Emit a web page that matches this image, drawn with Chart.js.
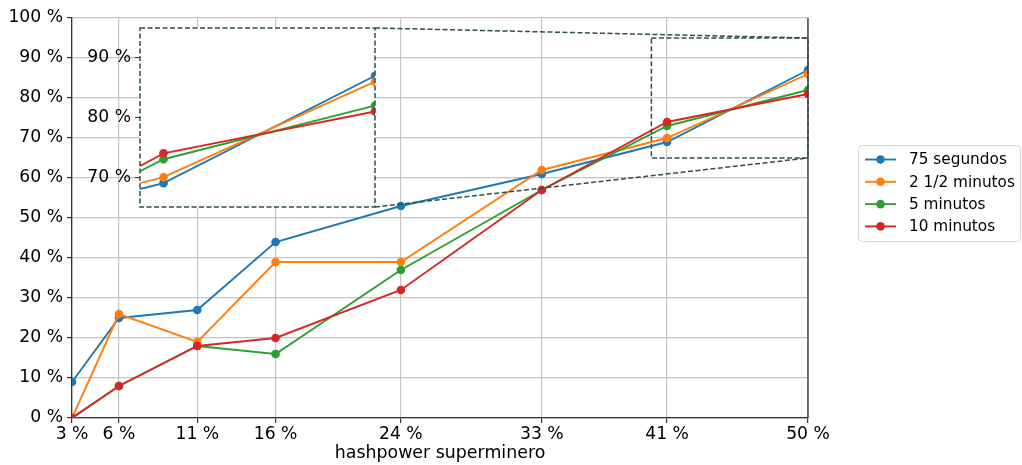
<!DOCTYPE html>
<html>
<head>
<meta charset="utf-8">
<script src="https://cdn.jsdelivr.net/npm/chart.js@4.4.1/dist/chart.umd.min.js"></script>
<style>
  html, body { margin: 0; padding: 0; background: #fff; }
  #wrap { position: relative; width: 1022px; height: 465px; }
  #mainChart { position: absolute; left: 0; top: 0; }
  #insetChart { position: absolute; }
</style>
</head>
<body>
<div id="wrap">
  <canvas id="mainChart" width="1022" height="465"></canvas>
  <canvas id="insetChart"></canvas>
</div>
<script>
// hashpower of the superminer (%) vs. share of blocks (%)
const hashpower = [3, 6, 11, 16, 24, 33, 41, 50];
const seriesNames = ['75 segundos', '2 1/2 minutos', '5 minutos', '10 minutos'];
const seg75 = [9, 25, 27, 44, 53, 61, 69, 87];
const min2half = [0, 26, 19, 39, 39, 62, 70, 86];
const min5 = [0, 8, 18, 16, 37, 57, 73, 82];
const min10 = [0, 8, 18, 20, 32, 57, 74, 81];

const xTicks = [3, 6, 11, 16, 24, 33, 41, 50];
const yTicks = [0, 10, 20, 30, 40, 50, 60, 70, 80, 90, 100];
const insetXRange = [40, 50];
const insetYRange = [65, 95];
const insetYTicks = [70, 80, 90];

const colors = ['#1f77b4', '#ff7f0e', '#2ca02c', '#d62728'];
const FONT = 'DejaVu Sans';
const TICK_SIZE = 17.2;
const INSET = { left: 140, top: 28, right: 375, bottom: 207 };
const DASH_COLOR = '#2f4f4f';

Chart.defaults.color = '#000';
Chart.defaults.font.family = FONT;

function makeDatasets() {
  return [seg75, min2half, min5, min10].map((vals, i) => ({
    label: seriesNames[i],
    data: vals.map((v, j) => ({ x: hashpower[j], y: v })),
    borderColor: colors[i],
    backgroundColor: colors[i],
    borderWidth: 1.9,
    pointRadius: 4.3,
    pointHoverRadius: 4.3,
    pointBorderWidth: 0,
    tension: 0,
    clip: 0,
    order: 4 - i
  }));
}

const pct = v => v + ' %';

// zoom box + connector lines toward the inset, plus the right spine
const zoomMarks = {
  id: 'zoomMarks',
  afterDatasetsDraw(chart) {
    const { ctx, scales: { x, y }, chartArea } = chart;
    const x0 = x.getPixelForValue(insetXRange[0]);
    const x1 = x.getPixelForValue(insetXRange[1]);
    const yTop = y.getPixelForValue(insetYRange[1]);
    const yBot = y.getPixelForValue(insetYRange[0]);
    ctx.save();
    ctx.strokeStyle = '#333';
    ctx.lineWidth = 1.3;
    ctx.beginPath();
    ctx.moveTo(chartArea.right, chartArea.top);
    ctx.lineTo(chartArea.right, chartArea.bottom);
    ctx.stroke();
    ctx.strokeStyle = DASH_COLOR;
    ctx.lineWidth = 1.5;
    ctx.setLineDash([5, 2.5]);
    ctx.strokeRect(x0, yTop, x1 - x0, yBot - yTop);
    ctx.beginPath();
    ctx.moveTo(INSET.right, INSET.top);
    ctx.lineTo(x1, yTop);
    ctx.moveTo(INSET.right, INSET.bottom);
    ctx.lineTo(x1, yBot);
    ctx.stroke();
    ctx.restore();
  }
};

// legend box to the right of the plot
const sideLegend = {
  id: 'sideLegend',
  afterDraw(chart) {
    const { ctx } = chart;
    const bx = 858, by = 145, bw = 162, bh = 96, r = 4;
    ctx.save();
    ctx.beginPath();
    ctx.roundRect(bx + 0.5, by + 0.5, bw, bh, r);
    ctx.fillStyle = 'rgba(255,255,255,0.8)';
    ctx.fill();
    ctx.strokeStyle = '#d6d6d6';
    ctx.lineWidth = 1;
    ctx.stroke();
    ctx.font = '15.3px "' + FONT + '"';
    ctx.textBaseline = 'middle';
    seriesNames.forEach((name, i) => {
      const cy = by + 14.5 + i * 22.3;
      ctx.strokeStyle = colors[i];
      ctx.lineWidth = 1.9;
      ctx.beginPath();
      ctx.moveTo(865, cy);
      ctx.lineTo(896, cy);
      ctx.stroke();
      ctx.fillStyle = colors[i];
      ctx.beginPath();
      ctx.arc(880.5, cy, 4.3, 0, Math.PI * 2);
      ctx.fill();
      ctx.fillStyle = '#000';
      ctx.fillText(name, 909, cy + 1);
    });
    ctx.restore();
  }
};

new Chart(document.getElementById('mainChart'), {
  type: 'line',
  data: { datasets: makeDatasets() },
  options: {
    responsive: false,
    animation: false,
    events: [],
    layout: { padding: { left: 0, top: 18, right: 214, bottom: 0 } },
    plugins: { legend: { display: false }, tooltip: { enabled: false } },
    scales: {
      x: {
        type: 'linear',
        min: 3,
        max: 50,
        afterBuildTicks: axis => { axis.ticks = xTicks.map(v => ({ value: v })); },
        afterFit: axis => { axis.height = 47; },
        ticks: { callback: pct, font: { size: TICK_SIZE }, padding: 1, maxRotation: 0, autoSkip: false },
        grid: { color: '#c4c4c4', lineWidth: 1.2, tickColor: '#333', tickLength: 5 },
        border: { color: '#333', width: 1.3 },
        title: { display: true, text: 'hashpower superminero', font: { size: 17.4 }, padding: { top: 0, bottom: 1 } }
      },
      y: {
        min: 0,
        max: 100,
        afterBuildTicks: axis => { axis.ticks = yTicks.map(v => ({ value: v })); },
        afterFit: axis => { axis.width = 72; },
        ticks: { callback: pct, font: { size: TICK_SIZE }, padding: 4 },
        grid: { color: '#c4c4c4', lineWidth: 1.2, tickColor: '#333', tickLength: 5 },
        border: { color: '#333', width: 1.3 }
      }
    }
  },
  plugins: [zoomMarks, sideLegend]
});

// inset: zoom on the 40-50 % range
const insetCanvas = document.getElementById('insetChart');
const insetYAxisW = 60, insetPad = { top: 16, right: 5, bottom: 16 };
insetCanvas.width = INSET.right - INSET.left + insetYAxisW + insetPad.right;
insetCanvas.height = INSET.bottom - INSET.top + insetPad.top + insetPad.bottom;
insetCanvas.style.left = (INSET.left - insetYAxisW) + 'px';
insetCanvas.style.top = (INSET.top - insetPad.top) + 'px';

const insetFrame = {
  id: 'insetFrame',
  beforeDatasetsDraw(chart) {
    const { ctx, chartArea: a } = chart;
    ctx.save();
    ctx.fillStyle = '#fff';
    ctx.fillRect(a.left, a.top, a.right - a.left, a.bottom - a.top);
    ctx.restore();
  },
  afterDraw(chart) {
    const { ctx, chartArea: a } = chart;
    ctx.save();
    ctx.strokeStyle = DASH_COLOR;
    ctx.lineWidth = 1.5;
    ctx.setLineDash([5, 2.5]);
    ctx.strokeRect(a.left, a.top, a.right - a.left, a.bottom - a.top);
    ctx.restore();
  }
};

new Chart(insetCanvas, {
  type: 'line',
  data: { datasets: makeDatasets() },
  options: {
    responsive: false,
    animation: false,
    events: [],
    layout: { padding: { left: 0, top: insetPad.top, right: insetPad.right, bottom: insetPad.bottom } },
    plugins: { legend: { display: false }, tooltip: { enabled: false } },
    scales: {
      x: { type: 'linear', min: insetXRange[0], max: insetXRange[1], display: false },
      y: {
        min: insetYRange[0],
        max: insetYRange[1],
        afterBuildTicks: axis => { axis.ticks = insetYTicks.map(v => ({ value: v })); },
        afterFit: axis => { axis.width = insetYAxisW; },
        ticks: { callback: pct, font: { size: TICK_SIZE }, padding: 4 },
        grid: { drawOnChartArea: false, tickColor: '#333', tickLength: 5 },
        border: { display: false }
      }
    }
  },
  plugins: [insetFrame]
});
</script>
</body>
</html>
